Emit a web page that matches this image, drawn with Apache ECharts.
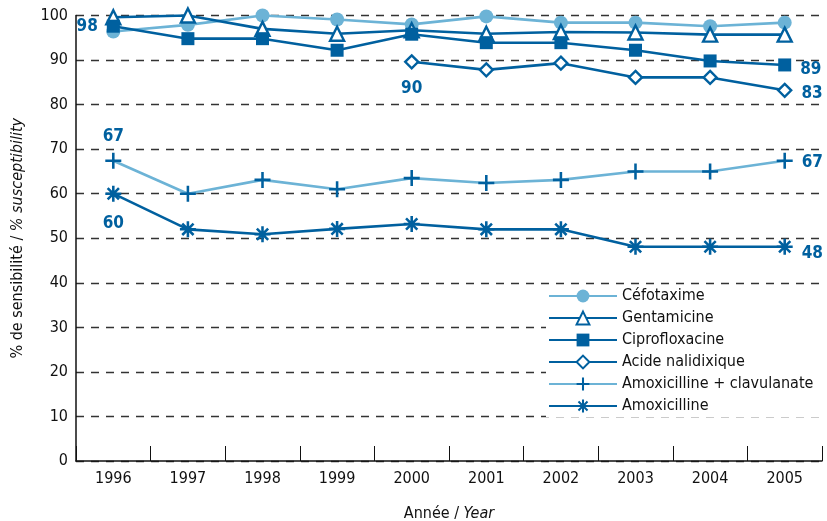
<!DOCTYPE html>
<html>
<head>
<meta charset="utf-8">
<script src="https://cdn.jsdelivr.net/npm/echarts@6/dist/echarts.min.js"></script>
<style>
  html, body { margin: 0; padding: 0; background: #fff; }
  #chart { width: 827px; height: 521px; }
</style>
</head>
<body>
<div id="chart"></div>
<script>
// data
const years = ["1996", "1997", "1998", "1999", "2000", "2001", "2002", "2003", "2004", "2005"];
const yTicks = [0, 10, 20, 30, 40, 50, 60, 70, 80, 90, 100];

const cefotaxime = [96.4, 97.9, 100, 99.1, 98, 99.8, 98.4, 98.4, 97.6, 98.4];
const gentamicine = [99.6, 100, 97, 95.9, 96.7, 95.9, 96.3, 96.2, 95.7, 95.7];
const ciprofloxacine = [97.6, 94.8, 94.8, 92.2, 95.8, 93.9, 93.9, 92.2, 89.8, 88.9];
const acideNalidixique = [null, null, null, null, 89.6, 87.8, 89.3, 86.1, 86.1, 83.2];
const amoxClav = [67.4, 60, 63.1, 61, 63.5, 62.4, 63.1, 65, 65, 67.4];
const amoxicilline = [60, 52, 50.9, 52.1, 53.2, 52, 52, 48.1, 48.1, 48.1];

const FONT = "'Liberation Sans Narrow', 'DejaVu Sans Condensed', sans-serif";
const DARK = "#00609f";
const LIGHT = "#6cb3d6";

const plusPath = "path://M-1.6,-10L1.6,-10L1.6,-1.6L10,-1.6L10,1.6L1.6,1.6L1.6,10L-1.6,10L-1.6,1.6L-10,1.6L-10,-1.6L-1.6,-1.6Z";
// asterisk = 4 bars, same winding
function bar(a) {
  const c = Math.cos(a), s = Math.sin(a), w = 1.6, l = 10;
  const pts = [[-l, -w], [l, -w], [l, w], [-l, w]].map(p => [p[0] * c - p[1] * s, p[0] * s + p[1] * c]);
  return "M" + pts.map(p => p[0].toFixed(2) + "," + p[1].toFixed(2)).join("L") + "Z";
}
const starPath = "path://" + [0, Math.PI / 4, Math.PI / 2, 3 * Math.PI / 4].map(bar).join("");

// value callouts: [series index, data index, position, offset]
const callouts = [
  [2, 0, "left", [0, 0]],
  [2, 9, "right", [0, 5]],
  [3, 4, "bottom", [0, 2]],
  [3, 9, "right", [0, 3]],
  [4, 0, "top", [0, 1]],
  [4, 9, "right", [0, 2]],
  [5, 0, "bottom", [0, 4]],
  [5, 9, "right", [0, 7]]
];

const labelStyle = { color: DARK, fontFamily: FONT, fontWeight: "bold", fontSize: 17 };

function build(si, values) {
  return values.map((v, i) => {
    const c = callouts.find(k => k[0] === si && k[1] === i);
    if (!c) return v;
    return {
      value: v,
      label: Object.assign({ show: true, position: c[2], offset: c[3], distance: 9, formatter: () => String(Math.round(v)) }, labelStyle)
    };
  });
}

const seriesDefs = [
  { name: "Céfotaxime", data: cefotaxime, symbol: "circle", size: 14, line: LIGHT, fill: LIGHT, border: LIGHT },
  { name: "Gentamicine", data: gentamicine, symbol: "triangle", size: 14, line: DARK, fill: "#fff", border: DARK },
  { name: "Ciprofloxacine", data: ciprofloxacine, symbol: "rect", size: 13, line: DARK, fill: DARK, border: DARK },
  { name: "Acide nalidixique", data: acideNalidixique, symbol: "diamond", size: 13, line: DARK, fill: "#fff", border: DARK },
  { name: "Amoxicilline + clavulanate", data: amoxClav, symbol: plusPath, size: 16, line: LIGHT, fill: DARK, border: DARK },
  { name: "Amoxicilline", data: amoxicilline, symbol: starPath, size: 16, line: DARK, fill: DARK, border: DARK }
];

const chart = echarts.init(document.getElementById("chart"), null, { renderer: "canvas" });

chart.setOption({
  animation: false,
  backgroundColor: "#fff",
  grid: { left: 76, right: 5, top: 15.5, bottom: 60, outerBoundsMode: "none", containLabel: false },
  legend: {
    orient: "vertical",
    left: 546,
    top: 285,
    padding: [3, 10, 3, 2],
    itemWidth: 68,
    itemHeight: 16,
    itemGap: 6,
    backgroundColor: "#fff",
    textStyle: { fontFamily: FONT, fontSize: 16, color: "#111" },
    data: seriesDefs.map(d => d.name)
  },
  xAxis: {
    type: "category",
    data: years,
    boundaryGap: true,
    name: "{a|Année / }{b|Year}",
    nameLocation: "middle",
    nameGap: 45,
    nameTextStyle: {
      rich: {
        a: { fontFamily: FONT, fontSize: 16, color: "#111" },
        b: { fontFamily: FONT, fontSize: 16, color: "#111", fontStyle: "italic" }
      }
    },
    axisLine: { lineStyle: { color: "#111", width: 1.5 } },
    axisTick: { show: true, inside: true, length: 15, lineStyle: { color: "#111", width: 1 } },
    axisLabel: { fontFamily: FONT, fontSize: 16, color: "#111", margin: 10 }
  },
  yAxis: {
    type: "value",
    min: yTicks[0],
    max: yTicks[yTicks.length - 1],
    interval: 10,
    name: "{a|% de sensibilité / }{b|% susceptibility}",
    nameLocation: "middle",
    nameRotate: 90,
    nameGap: 50,
    nameTextStyle: {
      rich: {
        a: { fontFamily: FONT, fontSize: 16, color: "#111" },
        b: { fontFamily: FONT, fontSize: 16, color: "#111", fontStyle: "italic" }
      }
    },
    axisLine: { show: true, lineStyle: { color: "#111", width: 1.5 } },
    axisTick: { show: false },
    axisLabel: { fontFamily: FONT, fontSize: 16, color: "#111", margin: 8 },
    splitLine: { show: true, lineStyle: { color: "#333", type: [8, 7], width: 1.3 } }
  },
  series: seriesDefs.map((d, si) => ({
    name: d.name,
    type: "line",
    data: build(si, d.data),
    symbol: d.symbol,
    symbolSize: d.size,
    showAllSymbol: true,
    connectNulls: false,
    clip: false,
    lineStyle: { color: d.line, width: 2.6 },
    itemStyle: { color: d.fill, borderColor: d.border, borderWidth: d.fill === "#fff" ? 2.4 : 0, opacity: 1 },
    emphasis: { disabled: true }
  }))
});
</script>
</body>
</html>
